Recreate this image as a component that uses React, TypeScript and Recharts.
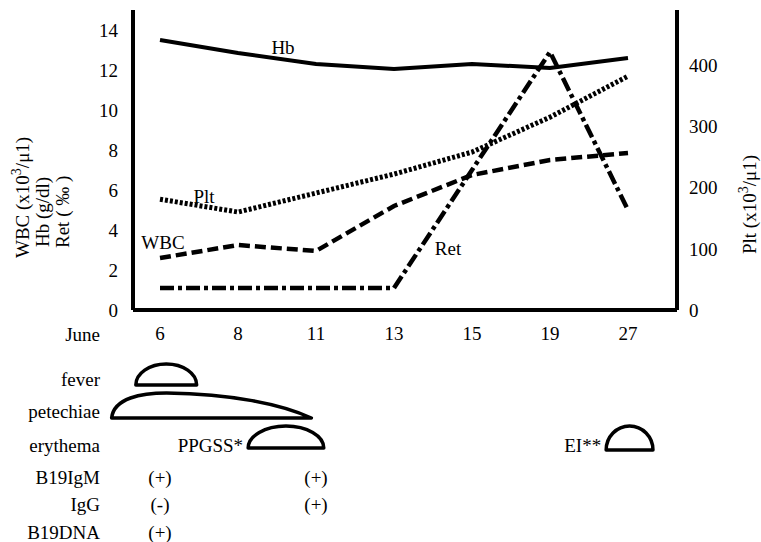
import { LineChart, Line, XAxis, YAxis } from "recharts";

// June dates on the x axis
const days = ["6", "8", "11", "13", "15", "19", "27"];

// values
const hb = [13.5, 12.85, 12.3, 12.05, 12.3, 12.1, 12.6];
const wbc = [2.6, 3.25, 2.95, 5.2, 6.75, 7.5, 7.85];
const ret = [1.1, 1.1, 1.1, 1.1, 7.0, 12.9, 5.0];
const plt = [181, 160, 191, 222, 258, 315, 382];

const leftTicks = [0, 2, 4, 6, 8, 10, 12, 14];
const rightTicks = [0, 100, 200, 300, 400];

// clinical course rows below the chart (spans in day-index units)
const rowNames = ["fever", "petechiae", "erythema", "B19IgM", "IgG", "B19DNA"];
const feverSpan = [-0.31, 0.47];
const petechiaeSpan = [-0.62, 1.94];
const ppgssSpan = [1.13, 2.1];
const eiSpan = [5.72, 6.32];
const igm = [{ at: 0, mark: "(+)" }, { at: 2, mark: "(+)" }];
const igg = [{ at: 0, mark: "(-)" }, { at: 2, mark: "(+)" }];
const dna = [{ at: 0, mark: "(+)" }];

const data = days.map((d, i) => ({ day: d, hb: hb[i], wbc: wbc[i], ret: ret[i], plt: plt[i] }));

const W = 761;
const H = 542;
const PLOT_LEFT = 133;
const PLOT_RIGHT = 677;
const PAD_L = 27;
const PAD_R = 49;
const FONT = "'Liberation Serif', 'Times New Roman', serif";
const FS = 19;

// same mapping as the point scale of the x axis
const step = (PLOT_RIGHT - PLOT_LEFT - PAD_L - PAD_R) / (days.length - 1);
const xAt = (i: number) => PLOT_LEFT + PAD_L + step * i;

function dome(span: number[], base: number, h: number) {
  const x1 = xAt(span[0]);
  const x2 = xAt(span[1]);
  const rx = (x2 - x1) / 2;
  return `M${x1},${base} A${rx},${h} 0 0 1 ${x2},${base} Z`;
}

function Overlay() {
  const rowY = [379, 411, 445, 477, 504, 532];
  const px1 = xAt(petechiaeSpan[0]);
  const px2 = xAt(petechiaeSpan[1]);
  const pBase = 418;
  const petechiae = `M${px1},${pBase} C${px1 + 2},${pBase - 20} ${px1 + 30},${pBase - 25} ${px1 + 55},${pBase - 25} C${px1 + 120},${pBase - 24} ${px2 - 30},${pBase - 14} ${px2},${pBase} Z`;
  const txt = { fontFamily: FONT, fontSize: FS, fill: "#000" };
  return (
    <svg width={W} height={H} style={{ position: "absolute", left: 0, top: 0, pointerEvents: "none" }}>
      {/* axis titles */}
      <text {...txt} transform="rotate(-90, 29, 258)" x={29} y={258}>
        WBC (x10<tspan dy={-8} fontSize={14}>3</tspan><tspan dy={8}>/μ1)</tspan>
      </text>
      <text {...txt} transform="rotate(-90, 49, 247)" x={49} y={247}>Hb (g/dl)</text>
      <text {...txt} transform="rotate(-90, 69, 248)" x={69} y={248}>Ret ( ‰ )</text>
      <text {...txt} transform="rotate(-90, 756, 254)" x={756} y={254}>
        Plt (x10<tspan dy={-8} fontSize={14}>3</tspan><tspan dy={8}>/μ1)</tspan>
      </text>

      {/* series labels */}
      <text {...txt} x={283} y={47} textAnchor="middle" dominantBaseline="central">Hb</text>
      <text {...txt} x={204} y={196} textAnchor="middle" dominantBaseline="central">Plt</text>
      <text {...txt} x={163} y={242} textAnchor="middle" dominantBaseline="central">WBC</text>
      <text {...txt} x={448} y={248} textAnchor="middle" dominantBaseline="central">Ret</text>

      <text {...txt} x={100} y={334} textAnchor="end" dominantBaseline="central">June</text>

      {rowNames.map((n, i) => (
        <text key={n} {...txt} x={100} y={rowY[i]} textAnchor="end" dominantBaseline="central">{n}</text>
      ))}

      <g fill="none" stroke="#000" strokeWidth={3.5} strokeLinejoin="round">
        <path d={dome(feverSpan, 385, 21)} />
        <path d={petechiae} />
        <path d={dome(ppgssSpan, 448, 22)} />
        <path d={dome(eiSpan, 450, 24)} />
      </g>
      <text {...txt} x={xAt(ppgssSpan[0]) - 5} y={445} textAnchor="end" dominantBaseline="central">PPGSS*</text>
      <text {...txt} x={xAt(eiSpan[0]) - 5} y={445} textAnchor="end" dominantBaseline="central">EI**</text>

      {igm.map((m) => (
        <text key={"m" + m.at} {...txt} x={xAt(m.at)} y={rowY[3]} textAnchor="middle" dominantBaseline="central">{m.mark}</text>
      ))}
      {igg.map((m) => (
        <text key={"g" + m.at} {...txt} x={xAt(m.at)} y={rowY[4]} textAnchor="middle" dominantBaseline="central">{m.mark}</text>
      ))}
      {dna.map((m) => (
        <text key={"d" + m.at} {...txt} x={xAt(m.at)} y={rowY[5]} textAnchor="middle" dominantBaseline="central">{m.mark}</text>
      ))}
    </svg>
  );
}

export default function App() {
  const tick = { fontFamily: FONT, fontSize: FS, fill: "#000" };
  return (
    <div style={{ position: "absolute", left: 0, top: 0, width: W, height: H, background: "#fff" }}>
      <LineChart width={W} height={H} data={data} margin={{ top: 10, right: 0, bottom: 0, left: 0 }}>
        <XAxis
          dataKey="day"
          height={232}
          padding={{ left: PAD_L, right: PAD_R }}
          tick={tick}
          tickLine={false}
          tickSize={0}
          tickMargin={17}
          axisLine={{ stroke: "#000", strokeWidth: 4 }}
        />
        <YAxis
          yAxisId="left"
          width={PLOT_LEFT}
          domain={[0, 15]}
          ticks={leftTicks}
          tick={tick}
          tickLine={false}
          tickSize={0}
          tickMargin={15}
          axisLine={{ stroke: "#000", strokeWidth: 4 }}
        />
        <YAxis
          yAxisId="right"
          orientation="right"
          width={W - PLOT_RIGHT}
          domain={[0, 490]}
          ticks={rightTicks}
          tick={{ ...tick, textAnchor: "start" }}
          tickLine={false}
          tickSize={0}
          tickMargin={12}
          axisLine={{ stroke: "#000", strokeWidth: 4 }}
        />
        <Line yAxisId="left" dataKey="hb" stroke="#000" strokeWidth={4} dot={false} isAnimationActive={false} />
        <Line yAxisId="right" dataKey="plt" stroke="#000" strokeWidth={5} strokeDasharray="3 2" dot={false} isAnimationActive={false} />
        <Line yAxisId="left" dataKey="wbc" stroke="#000" strokeWidth={4.5} strokeDasharray="11 5" dot={false} isAnimationActive={false} />
        <Line yAxisId="left" dataKey="ret" stroke="#000" strokeWidth={4.5} strokeDasharray="14 4 4 4" dot={false} isAnimationActive={false} />
      </LineChart>
      <Overlay />
    </div>
  );
}
